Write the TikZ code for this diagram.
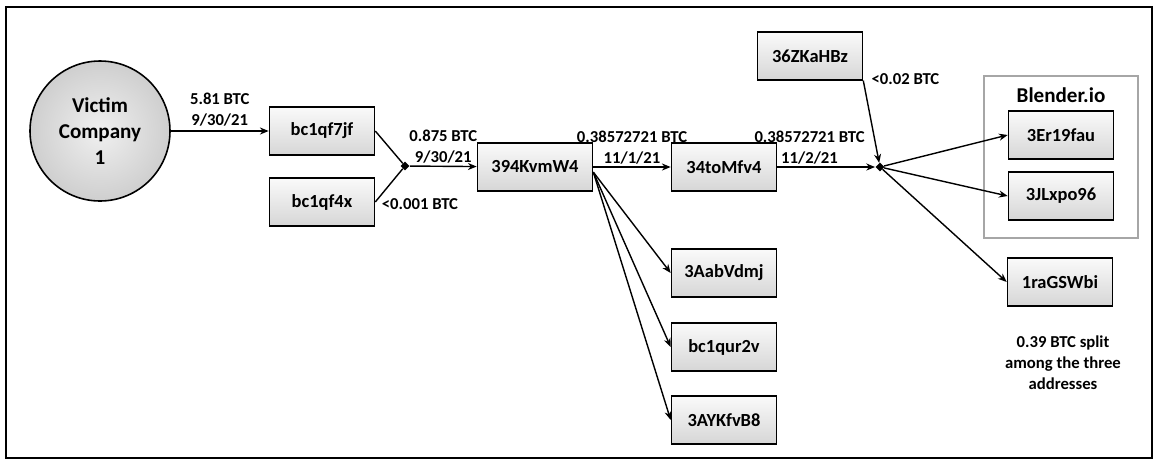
\documentclass[tikz,border=0pt]{standalone}
\usepackage{fontspec}
\setmainfont{Carlito}
\usepackage{tikz}
\usetikzlibrary{arrows.meta,calc,fit,positioning,shapes.geometric}

\begin{document}
\begin{tikzpicture}[
    block/.style={
        draw,
        rectangle,
        line width=0.9pt,
        minimum width=2.1cm,
        minimum height=0.95cm,
        align=center,
        top color=gray!4,
        bottom color=gray!32,
        font=\bfseries\fontsize{10.5}{12}\selectfont
    },
    victim/.style={
        draw,
        circle,
        line width=0.9pt,
        minimum size=2.8cm,
        align=center,
        inner color=gray!12,
        outer color=gray!38,
        font=\bfseries\fontsize{12}{15}\selectfont
    },
    junction/.style={
        diamond,
        fill=black,
        inner sep=1.3pt
    },
    mixer/.style={
        draw=gray!70,
        rectangle,
        line width=0.6pt
    },
    txt/.style={
        align=center,
        font=\bfseries\fontsize{9.5}{12}\selectfont
    },
    arrow/.style={
        -{Stealth[length=5pt,width=4pt]},
        line width=0.8pt
    },
    link/.style={
        line width=0.8pt
    }
]
\useasboundingbox (0,0) rectangle (23.14,-9.2);
\draw[line width=1pt] (0.12,-0.14) rectangle (23.04,-9.16);

% Source and first hops
\node[victim] at (2.0,-2.62) (victim) {Victim\\Company\\1};
\node[block] at (6.44,-2.62) (f7jf) {bc1qf7jf};
\node[block] at (6.44,-4.04) (f4x)  {bc1qf4x};
\node[junction] at (8.1,-3.32) (j1) {};

% Main chain
\node[block, minimum width=2.3cm] at (10.7,-3.34) (kvm)  {394KvmW4};
\node[block] at (14.48,-3.34) (tomf) {34toMfv4};
\node[junction] at (17.6,-3.34) (j2) {};
\node[block] at (16.2,-1.12) (zka) {36ZKaHBz};

% Branches of 394KvmW4
\node[block] at (14.48,-5.46) (aab) {3AabVdmj};
\node[block] at (14.48,-6.94) (qur) {bc1qur2v};
\node[block] at (14.48,-8.40) (ayk) {3AYKfvB8};

% Blender.io
\node[mixer, minimum width=3.08cm, minimum height=3.24cm] at (21.22,-3.14) (mixer) {};
\node[font=\bfseries\fontsize{12}{14}\selectfont] at (21.22,-1.9) (mixtitle) {Blender.io};
\node[block] at (21.22,-2.7) (er19) {3Er19fau};
\node[block] at (21.22,-3.92) (jlx) {3JLxpo96};
\node[block] at (21.2,-5.64) (rags) {1raGSWbi};
\node[txt] at (21.26,-7.26) (note) {0.39 BTC split\\among the three\\addresses};

% Arrows
\draw[arrow] (victim) -- (f7jf)
    node[midway, above, txt, yshift=-1pt] {5.81 BTC\\9/30/21};
\draw[link] (f7jf.east) -- (j1);
\draw[link] (f4x.east) -- (j1)
    node[at start, anchor=west, txt, xshift=0pt, yshift=-1pt] {<0.001 BTC};
\draw[arrow] (j1) -- (kvm)
    node[midway, above, txt, yshift=-2pt] {0.875 BTC\\9/30/21};
\draw[arrow] (kvm) -- (tomf)
    node[midway, above, txt, yshift=-2pt] {0.38572721 BTC\\11/1/21};
\draw[arrow] (tomf) -- (j2)
    node[pos=0.33, above, txt, yshift=-2pt] {0.38572721 BTC\\11/2/21};
\draw[arrow] (zka.south east) -- (j2)
    node[at start, anchor=west, txt, xshift=1pt, yshift=1pt] {<0.02 BTC};

\draw[arrow] (kvm.-5) -- (aab.west);
\draw[arrow] (kvm.-5) -- (qur.west);
\draw[arrow] (kvm.-5) -- (ayk.west);

\draw[arrow] (j2) -- (er19.west);
\draw[arrow] (j2) -- (jlx.west);
\draw[arrow] (j2) -- (rags.west);

\end{tikzpicture}
\end{document}
